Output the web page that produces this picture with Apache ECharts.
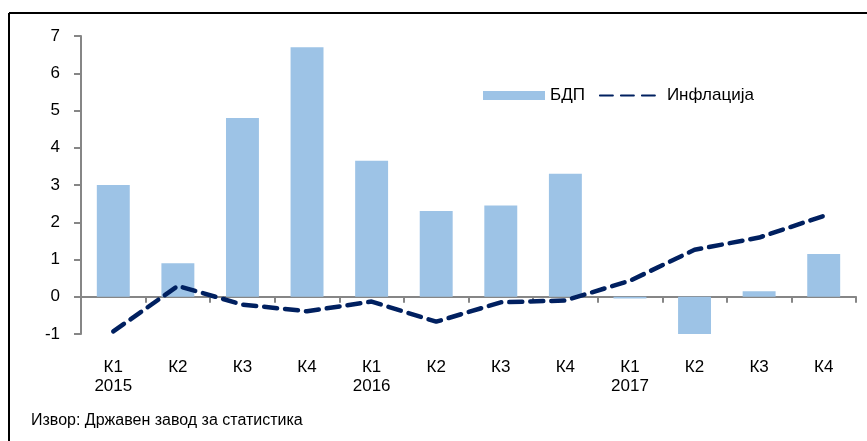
<!DOCTYPE html>
<html>
<head>
<meta charset="utf-8">
<script src="https://cdn.jsdelivr.net/npm/echarts@6/dist/echarts.min.js"></script>
<style>
  html, body { margin: 0; padding: 0; background: #fff; }
  #chart { width: 867px; height: 441px; }
</style>
</head>
<body>
<div id="chart"></div>
<script>
// квартали
const quarters = ['К1\n2015', 'К2', 'К3', 'К4', 'К1\n2016', 'К2', 'К3', 'К4', 'К1\n2017', 'К2', 'К3', 'К4']
// БДП, реален раст (%)
const gdp = [3.0, 0.9, 4.8, 6.7, 3.65, 2.3, 2.45, 3.3, -0.05, -1.05, 0.15, 1.15]
// инфлација (%)
const inflation = [-0.93, 0.29, -0.21, -0.39, -0.13, -0.67, -0.15, -0.1, 0.43, 1.26, 1.59, 2.17]
const yTicks = { min: -1, max: 7, interval: 1 }

const font = 'Liberation Sans, Arial, sans-serif'
const myChart = echarts.init(document.getElementById('chart'))

const option = {
  animation: false,
  backgroundColor: '#fff',
  textStyle: { fontFamily: font, color: '#000' },
  legend: {
    left: 478,
    top: 82,
    itemWidth: 62,
    itemHeight: 9,
    itemGap: 14,
    textStyle: { fontSize: 17, color: '#000', fontFamily: font },
    data: [
      { name: 'БДП', icon: 'rect' },
      { name: 'Инфлација', itemStyle: { color: 'transparent', borderWidth: 0, opacity: 0 } }
    ]
  },
  grid: { left: 81, right: 11, top: 36, bottom: 107 },
  xAxis: {
    type: 'category',
    data: quarters,
    axisLine: { onZero: true, lineStyle: { color: '#868686', width: 2 } },
    axisTick: { show: true, length: 6, lineStyle: { color: '#868686', width: 2 } },
    axisLabel: { margin: 24, fontSize: 17, lineHeight: 19, color: '#000', fontFamily: font, interval: 0 }
  },
  yAxis: {
    type: 'value',
    min: yTicks.min,
    max: yTicks.max,
    interval: yTicks.interval,
    splitLine: { show: false },
    axisLine: { show: true, lineStyle: { color: '#868686', width: 2 } },
    axisTick: { show: true, length: 7, lineStyle: { color: '#868686', width: 2 } },
    axisLabel: { margin: 21, fontSize: 17, color: '#000', fontFamily: font }
  },
  series: [
    {
      name: 'БДП',
      type: 'bar',
      data: gdp,
      barWidth: '51%',
      itemStyle: { color: '#9dc3e6' }
    },
    {
      name: 'Инфлација',
      type: 'line',
      data: inflation,
      symbol: 'none',
      z: 5,
      itemStyle: { color: '#002060' },
      lineStyle: { color: '#002060', width: 4.5, type: [13, 8], cap: 'round' }
    }
  ],
  graphic: [
    { type: 'line', shape: { x1: 9, y1: 13, x2: 867, y2: 13 }, style: { stroke: '#000', lineWidth: 2 } },
    { type: 'line', shape: { x1: 9, y1: 13, x2: 9, y2: 441 }, style: { stroke: '#000', lineWidth: 2 } },
    {
      type: 'text', left: 31, top: 413,
      style: { text: 'Извор: Државен завод за статистика', fontSize: 16, fill: '#000', fontFamily: font }
    }
  ]
}

myChart.setOption(option)
</script>
</body>
</html>
